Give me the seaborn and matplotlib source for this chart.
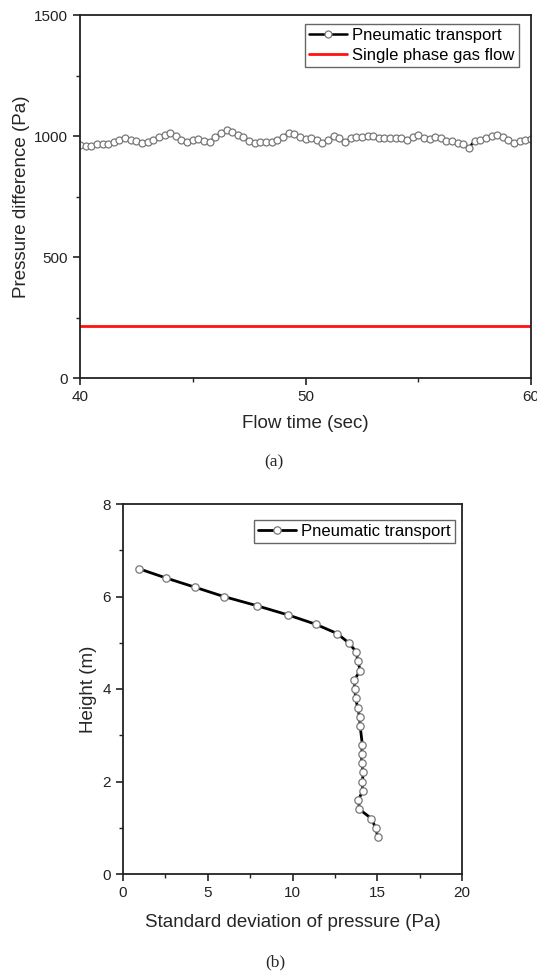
import numpy as np
import pandas as pd
import matplotlib
matplotlib.use("Agg")
import matplotlib.pyplot as plt
import seaborn as sns
from matplotlib.ticker import MultipleLocator

# ---------------- data ----------------
flow_time = [40 + 0.25 * i for i in range(81)]
pneumatic_pressure = [
    963, 958, 960, 965, 966, 968, 975, 985, 990, 985,
    978, 972, 975, 985, 995, 1005, 1012, 998, 985, 975,
    982, 987, 980, 975, 995, 1012, 1025, 1015, 1003, 995,
    978, 973, 975, 975, 977, 982, 995, 1012, 1008, 995,
    987, 993, 985, 972, 985, 998, 990, 975, 990, 995,
    997, 1000, 998, 992, 993, 993, 992, 990, 985, 995,
    1005, 992, 988, 995, 990, 980, 978, 973, 965, 952,
    980, 985, 990, 1000, 1005, 995, 985, 973, 978, 983,
    987,
]
single_phase_time = [40, 60]
single_phase_pressure = [215, 215]

std_pressure = [
    0.94, 2.54, 4.25, 5.94, 7.91, 9.75, 11.37, 12.63, 13.31, 13.77,
    13.85, 14.00, 13.65, 13.67, 13.73, 13.84, 13.96, 13.99,
    14.12, 14.08, 14.08, 14.18, 14.12, 14.14, 13.89, 13.95,
    14.65, 14.90, 15.04,
]
height = [
    6.6, 6.4, 6.2, 6.0, 5.8, 5.6, 5.4, 5.2, 5.0, 4.8,
    4.6, 4.4, 4.2, 4.0, 3.8, 3.6, 3.4, 3.2,
    2.8, 2.6, 2.4, 2.2, 2.0, 1.8, 1.6, 1.4,
    1.2, 1.0, 0.8,
]

# ---------------- style ----------------
sns.set_theme(style="ticks")
plt.rcParams["font.family"] = ["Liberation Sans", "DejaVu Sans"]
plt.rcParams["axes.linewidth"] = 1.3
plt.rcParams["axes.edgecolor"] = "#222222"

fig = plt.figure(figsize=(5.37, 9.76), dpi=100)
ax1 = fig.add_axes([80 / 537, 1 - 378 / 976, 451 / 537, 363 / 976])
ax2 = fig.add_axes([123 / 537, 1 - 874 / 976, 339 / 537, 370 / 976])

df_a = pd.DataFrame({"t": flow_time, "p": pneumatic_pressure})
df_s = pd.DataFrame({"t": single_phase_time, "p": single_phase_pressure})
df_b = pd.DataFrame({"s": std_pressure, "h": height})

marker_kw = dict(marker="o", markerfacecolor="white", markeredgecolor="#777777",
                 markeredgewidth=0.9)

sns.lineplot(data=df_a, x="t", y="p", ax=ax1, color="black", linewidth=1.8,
             markersize=5.0, label="Pneumatic transport", estimator=None,
             sort=False, **marker_kw)
sns.lineplot(data=df_s, x="t", y="p", ax=ax1, color="#ff1010", linewidth=2.0,
             label="Single phase gas flow", estimator=None, sort=False)

sns.lineplot(data=df_b, x="s", y="h", ax=ax2, color="black", linewidth=2.0,
             markersize=5.3, label="Pneumatic transport", estimator=None,
             sort=False, **marker_kw)

tick_fs = 11
label_fs = 13.5

# axis a
ax1.set_xlim(40, 60)
ax1.set_ylim(0, 1500)
ax1.xaxis.set_major_locator(MultipleLocator(10))
ax1.xaxis.set_minor_locator(MultipleLocator(5))
ax1.yaxis.set_major_locator(MultipleLocator(500))
ax1.yaxis.set_minor_locator(MultipleLocator(250))
ax1.set_xlabel("Flow time (sec)", fontsize=label_fs, labelpad=8)
ax1.set_ylabel("Pressure difference (Pa)", fontsize=label_fs, labelpad=3)

# axis b
ax2.set_xlim(0, 20)
ax2.set_ylim(0, 8)
ax2.xaxis.set_major_locator(MultipleLocator(5))
ax2.xaxis.set_minor_locator(MultipleLocator(2.5))
ax2.yaxis.set_major_locator(MultipleLocator(2))
ax2.yaxis.set_minor_locator(MultipleLocator(1))
ax2.set_xlabel("Standard deviation of pressure (Pa)", fontsize=label_fs, labelpad=10)
ax2.set_ylabel("Height (m)", fontsize=label_fs, labelpad=4)

legend_anchor = {ax1: (0.973, 0.975), ax2: (0.979, 0.957)}
for ax in (ax1, ax2):
    for s in ax.spines.values():
        s.set_visible(True)
        s.set_linewidth(1.3)
        s.set_color("#222222")
    ax.tick_params(which="major", direction="out", length=5, width=1.2,
                   labelsize=tick_fs, colors="#222222", pad=3.5)
    ax.tick_params(which="minor", direction="out", length=3, width=1.0,
                   colors="#222222")
    ax.grid(False)
    leg = ax.legend(loc="upper right", bbox_to_anchor=legend_anchor[ax],
                    fontsize=12, frameon=True, fancybox=False,
                    edgecolor="#666666", framealpha=1, handlelength=2.3,
                    handletextpad=0.3, borderpad=0.25, borderaxespad=0.0,
                    labelspacing=0.3)
    for txt in leg.get_texts():
        txt.set_color("black")
    leg.get_frame().set_linewidth(1.0)

fig.text(274 / 537, 1 - 462 / 976, "(a)", ha="center", va="center",
         fontsize=12.5, family=["Liberation Serif", "DejaVu Serif"])
fig.text(275 / 537, 1 - 962 / 976, "(b)", ha="center", va="center",
         fontsize=12.5, family=["Liberation Serif", "DejaVu Serif"])

fig.savefig("out.png", dpi=100)
